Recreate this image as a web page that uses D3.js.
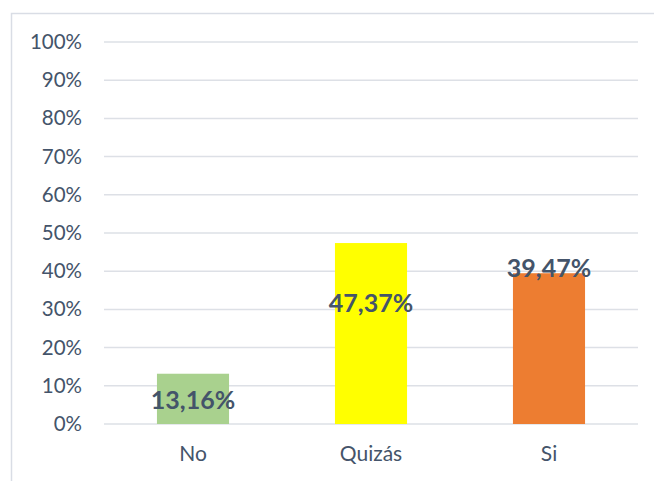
<!DOCTYPE html>
<html>
<head>
<meta charset="utf-8">
<script src="https://cdn.jsdelivr.net/npm/d3@7"></script>
<style>
  body { margin: 0; background: #fff; }
  svg { display: block; font-family: Lato, Calibri, sans-serif; }
</style>
</head>
<body>
<svg id="chart" width="654" height="481"></svg>
<script>
const categories = ['No', 'Quizás', 'Si'];
const values = [13.16, 47.37, 39.47];
const barColors = ['#A9D18E', '#FFFF00', '#ED7D31'];
const yTicks = [0, 10, 20, 30, 40, 50, 60, 70, 80, 90, 100];

const width = 654, height = 481;
const margin = {top: 42, right: 16, bottom: 57, left: 104};
const textColor = '#44546A';

const svg = d3.select('#chart');

// chart border (runs off the right and bottom edges)
svg.append('rect')
   .attr('x', 11.5)
   .attr('y', 13.5)
   .attr('width', width)
   .attr('height', height)
   .attr('fill', 'none')
   .attr('stroke', '#D9DDE5')
   .attr('stroke-width', 1.5);

const x = d3.scaleBand()
  .domain(categories)
  .range([margin.left, width - margin.right])
  .paddingInner(0.595)
  .paddingOuter(0.2975);

const y = d3.scaleLinear()
  .domain([0, 100])
  .range([height - margin.bottom - 0, margin.top]);

// gridlines
svg.append('g')
   .selectAll('line')
   .data(yTicks)
   .enter()
   .append('line')
   .attr('x1', margin.left)
   .attr('x2', width - margin.right)
   .attr('y1', (d) => y(d))
   .attr('y2', (d) => y(d))
   .attr('stroke', '#DDE0E6')
   .attr('stroke-width', 1.5);

// y axis labels
const yAxis = d3.axisLeft(y)
  .tickValues(yTicks)
  .tickFormat((d) => d + '%')
  .tickSize(0)
  .tickPadding(0);

const yg = svg.append('g')
  .attr('transform', 'translate(' + (margin.left - 22) + ',0)')
  .call(yAxis);
yg.select('.domain').remove();
yg.selectAll('text')
  .attr('fill', textColor)
  .style('font-size', '20.5px')
  .style('font-family', 'Lato, Calibri, sans-serif');

// bars
svg.append('g')
   .selectAll('rect')
   .data(values)
   .enter()
   .append('rect')
   .attr('x', (d, i) => x(categories[i]))
   .attr('y', (d) => y(d))
   .attr('width', x.bandwidth())
   .attr('height', (d) => y(0) - y(d))
   .attr('fill', (d, i) => barColors[i]);

// x axis labels
const xAxis = d3.axisBottom(x).tickSize(0).tickPadding(0);
const xg = svg.append('g')
  .attr('transform', 'translate(0,' + (y(0) + 22) + ')')
  .call(xAxis);
xg.select('.domain').remove();
xg.selectAll('text')
  .attr('fill', textColor)
  .style('font-size', '21px')
  .style('font-family', 'Lato, Calibri, sans-serif');

// data labels, placed as in the original sheet
const labelShift = [35, 69, 4];
svg.append('g')
   .selectAll('text')
   .data(values)
   .enter()
   .append('text')
   .attr('x', (d, i) => x(categories[i]) + x.bandwidth() / 2)
   .attr('y', (d, i) => y(d) + labelShift[i])
   .attr('text-anchor', 'middle')
   .attr('fill', textColor)
   .style('font-size', '25px')
   .style('font-weight', 'bold')
   .text((d) => d.toFixed(2).replace('.', ',') + '%');
</script>
</body>
</html>
